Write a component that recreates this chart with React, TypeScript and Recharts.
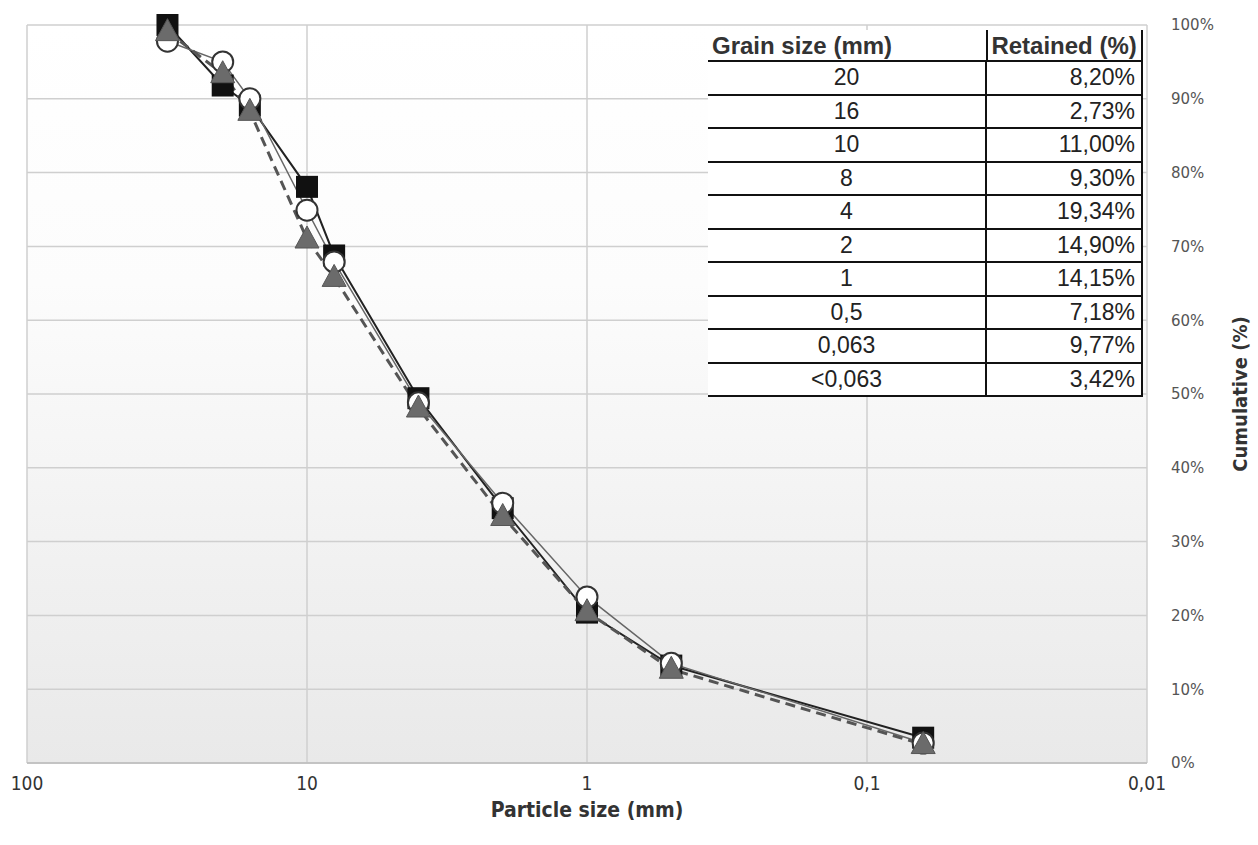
import React from "react";
import { LineChart, Line, XAxis, YAxis, CartesianGrid, Label } from "recharts";

// sieve sizes (mm) on the log axis
const SIZES = [31.5, 20, 16, 10, 8, 4, 2, 1, 0.5, 0.063];
// cumulative passing (%) per sample
const SQUARES = [100, 91.8, 89.07, 78.07, 68.77, 49.43, 34.53, 20.38, 13.2, 3.43];
const CIRCLES = [97.8, 95, 90, 74.9, 67.9, 48.8, 35.2, 22.5, 13.5, 2.7];
const TRIANGLES = [99.1, 93.4, 88.3, 71, 65.8, 48.1, 33.4, 20.5, 12.7, 2.5];

const X_TICKS = [100, 10, 1, 0.1, 0.01];
const Y_TICKS = [0, 10, 20, 30, 40, 50, 60, 70, 80, 90, 100];

// inset table
const GRAIN = ["20", "16", "10", "8", "4", "2", "1", "0,5", "0,063", "<0,063"];
const RETAINED = ["8,20%", "2,73%", "11,00%", "9,30%", "19,34%", "14,90%", "14,15%", "7,18%", "9,77%", "3,42%"];

const data = SIZES.map((size, i) => ({
  size,
  squares: SQUARES[i],
  circles: CIRCLES[i],
  triangles: TRIANGLES[i],
}));

const fmtX = (v: number) => String(v).replace(".", ",");

function SquareDot(props: any) {
  const { cx, cy } = props;
  if (cx == null || cy == null) return null;
  return <rect x={cx - 11} y={cy - 11} width={22} height={22} fill="#111" />;
}

function CircleDot(props: any) {
  const { cx, cy } = props;
  if (cx == null || cy == null) return null;
  return <circle cx={cx} cy={cy} r={10.5} fill="#fff" stroke="#333" strokeWidth={2} />;
}

function TriangleDot(props: any) {
  const { cx, cy } = props;
  if (cx == null || cy == null) return null;
  const pts = `${cx},${cy - 13} ${cx + 12},${cy + 9} ${cx - 12},${cy + 9}`;
  return <polygon points={pts} fill="#6b6b6b" stroke="#555" strokeWidth={1} />;
}

const cellFont = "'Liberation Sans', Arial, sans-serif";
const condensed = "'DejaVu Sans Condensed', 'DejaVu Sans', sans-serif";

function GrainTable() {
  const rowH = 33.5;
  return (
    <div
      style={{
        position: "absolute",
        left: 708,
        top: 30,
        width: 435,
        background: "#fff",
        fontFamily: cellFont,
        color: "#222",
      }}
    >
      <div style={{ display: "flex", height: 32, borderBottom: "2px solid #111", boxSizing: "border-box" }}>
        <div style={{ width: 277, fontSize: 24, fontWeight: 700, paddingLeft: 4, lineHeight: "32px", color: "#333" }}>
          Grain size (mm)
        </div>
        <div
          style={{
            width: 158,
            fontSize: 24,
            fontWeight: 700,
            paddingLeft: 3,
            lineHeight: "32px",
            borderLeft: "2px solid #111",
            borderRight: "2px solid #111",
            boxSizing: "border-box",
            color: "#333",
            whiteSpace: "nowrap",
            overflow: "hidden",
          }}
        >
          Retained (%)
        </div>
      </div>
      {GRAIN.map((g, i) => (
        <div
          key={g}
          style={{ display: "flex", height: rowH, borderBottom: "2px solid #111", boxSizing: "border-box" }}
        >
          <div style={{ width: 277, fontSize: 23, textAlign: "center", lineHeight: `${rowH - 2}px` }}>{g}</div>
          <div
            style={{
              width: 158,
              fontSize: 23,
              textAlign: "right",
              paddingRight: 6,
              lineHeight: `${rowH - 2}px`,
              borderLeft: "2px solid #111",
              borderRight: "2px solid #111",
              boxSizing: "border-box",
            }}
          >
            {RETAINED[i]}
          </div>
        </div>
      ))}
    </div>
  );
}

export default function App() {
  return (
    <div style={{ position: "absolute", left: 0, top: 0, width: 1258, height: 845, background: "#fff" }}>
      <LineChart width={1258} height={845} data={data} margin={{ top: 25, left: 27, right: 0, bottom: 0 }}>
        <defs>
          <linearGradient id="plotBg" x1="0" y1="0" x2="0" y2="1">
            <stop offset="0%" stopColor="#ffffff" />
            <stop offset="35%" stopColor="#fcfcfc" />
            <stop offset="100%" stopColor="#e9e9e9" />
          </linearGradient>
        </defs>
        <CartesianGrid stroke="#cfcfcf" strokeWidth={1.5} fill="url(#plotBg)" />
        <XAxis
          dataKey="size"
          type="number"
          scale="log"
          domain={[0.01, 100]}
          reversed
          ticks={X_TICKS}
          tickFormatter={fmtX}
          allowDataOverflow
          height={82}
          axisLine={{ stroke: "#bdbdbd", strokeWidth: 1.5 }}
          tickLine={false}
          tickMargin={8}
          tick={{ fill: "#333", fontSize: 19, fontFamily: condensed }}
        >
          <Label
            value="Particle size (mm)"
            position="insideBottom"
            offset={28}
            style={{ fill: "#333", fontSize: 21, fontWeight: 600, fontFamily: condensed }}
          />
        </XAxis>
        <YAxis
          orientation="right"
          domain={[0, 100]}
          ticks={Y_TICKS}
          width={111}
          axisLine={false}
          tickLine={false}
          tickMargin={18}
          tickFormatter={(v: number) => `${v}%`}
          tick={{ fill: "#555", fontSize: 15, fontFamily: "'DejaVu Sans', sans-serif", textAnchor: "start" }}
        >
          <Label
            value="Cumulative (%)"
            angle={-90}
            position="insideRight"
            offset={18}
            style={{ fill: "#333", fontSize: 20, fontWeight: 700, fontFamily: condensed, textAnchor: "middle" }}
          />
        </YAxis>
        <Line
          dataKey="squares"
          stroke="#222"
          strokeWidth={2}
          dot={<SquareDot />}
          activeDot={false}
          isAnimationActive={false}
        />
        <Line
          dataKey="circles"
          stroke="#666"
          strokeWidth={1.5}
          dot={<CircleDot />}
          activeDot={false}
          isAnimationActive={false}
        />
        <Line
          dataKey="triangles"
          stroke="#555"
          strokeWidth={3}
          strokeDasharray="10 6"
          dot={<TriangleDot />}
          activeDot={false}
          isAnimationActive={false}
        />
      </LineChart>
      <GrainTable />
    </div>
  );
}
